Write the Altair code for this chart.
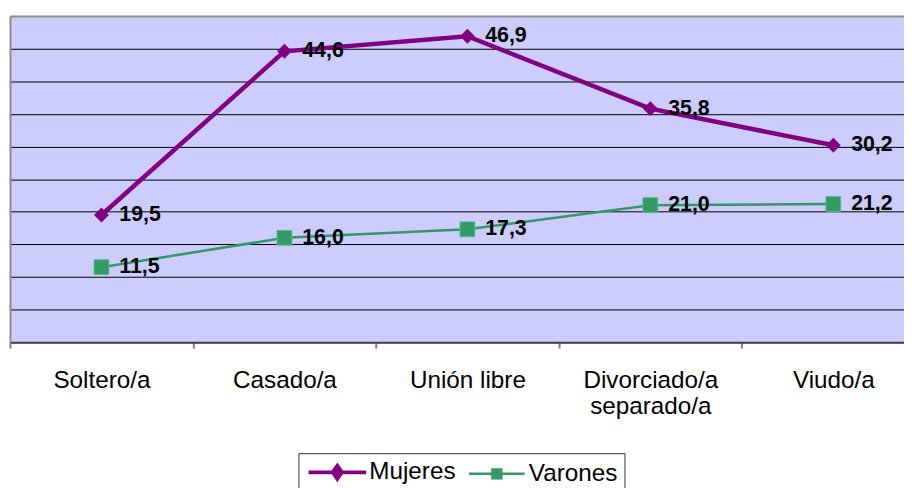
import altair as alt
import pandas as pd

categories = ["Soltero/a", "Casado/a", "Unión libre", "Divorciado/a\nseparado/a", "Viudo/a"]
series_names = ["Mujeres", "Varones"]
mujeres = [19.5, 44.6, 46.9, 35.8, 30.2]
varones = [11.5, 16.0, 17.3, 21.0, 21.2]
y_ticks = [0, 5, 10, 15, 20, 25, 30, 35, 40, 45, 50]

rows = []
for s, vals in zip(series_names, [mujeres, varones]):
    for c, v in zip(categories, vals):
        rows.append({"cat": c, "serie": s, "valor": v,
                     "etiqueta": f"{v:.1f}".replace(".", ",")})
df = pd.DataFrame(rows)

FONT = "Liberation Sans"
PURPLE = "#800080"
GREEN = "#339966"

x_enc = alt.X(
    "cat:N", sort=categories, title=None,
    scale=alt.Scale(type="band", range=[0, 923], paddingInner=0, paddingOuter=0),
    axis=alt.Axis(labelAngle=0, labelFont=FONT, labelFontSize=24.5, labelColor="black",
                  labelExpr="split(datum.label, '\\n')", labelLineHeight=26,
                  labelPadding=21, labelOverlap=False, labelLimit=0,
                  tickBand="extent", tickSize=6, tickColor="#808080", tickWidth=2,
                  domainColor="#404040", domainWidth=2, grid=False),
)
y_enc = alt.Y(
    "valor:Q", title=None,
    scale=alt.Scale(domain=[0, 50], nice=False, zero=True),
    axis=alt.Axis(values=y_ticks, labels=False, ticks=False, domain=True,
                  domainColor="#8C8C8C", domainWidth=2, grid=True, gridOpacity=1,
                  gridColor=alt.condition("datum.value >= 50", alt.value("#8C8C8C"), alt.value("black")),
                  gridWidth=alt.condition("datum.value >= 50", alt.value(2), alt.value(1))),
)

base = alt.Chart(df).encode(x=x_enc, y=y_enc)

line_m = base.transform_filter("datum.serie == 'Mujeres'").mark_line(color=PURPLE, strokeWidth=4.5)
line_v = base.transform_filter("datum.serie == 'Varones'").mark_line(color=GREEN, strokeWidth=2.5)
pts_m = base.transform_filter("datum.serie == 'Mujeres'").mark_point(
    shape="diamond", filled=True, fill=PURPLE, size=225, opacity=1, strokeWidth=0)
pts_v = base.transform_filter("datum.serie == 'Varones'").mark_point(
    shape="square", filled=True, fill=GREEN, stroke="#5FB88A", strokeWidth=1, size=225, opacity=1)
labels = base.mark_text(align="left", baseline="middle", dx=18, font=FONT, fontSize=21.5,
                        fontWeight="bold", color="black").encode(text="etiqueta:N")

# legend symbols: line segment plus marker (unit = 10 px with symbolSize 400)
path_m = "M-2.9,0H2.9M0,-0.65L0.45,0L0,0.65L-0.45,0Z"
path_v = "M-2.8,0H2.8M-0.45,-0.45H0.45V0.45H-0.45Z"

leg = alt.Legend(title=None, orient="none", legendX=291, legendY=441, direction="horizontal",
                 symbolSize=400, symbolOffset=20, labelFont=FONT, labelFontSize=24.5,
                 labelColor="black", labelOffset=20, columnPadding=8, padding=7,
                 strokeColor="#333333", fillColor="white")

legend_layer = base.transform_filter("false").mark_point(filled=True, opacity=1).encode(
    fill=alt.Fill("serie:N", scale=alt.Scale(domain=series_names, range=[PURPLE, GREEN]), legend=leg),
    stroke=alt.Stroke("serie:N", scale=alt.Scale(domain=series_names, range=[PURPLE, GREEN]), legend=leg),
    shape=alt.Shape("serie:N", scale=alt.Scale(domain=series_names, range=[path_m, path_v]), legend=leg),
    strokeWidth=alt.StrokeWidth("serie:N", scale=alt.Scale(type="point", domain=series_names,
                                                           range=[4, 2.5], padding=0), legend=leg),
)

chart = alt.layer(line_m, line_v, pts_m, pts_v, labels, legend_layer).properties(
    width=902, height=329,
    autosize=alt.AutoSizeParams(type="none"),
    padding={"left": 2, "top": 6, "right": 0, "bottom": 145},
    background="white",
).configure_view(fill="#CCCCFF", strokeWidth=0)

chart.save("out.html", embed_options={"renderer": "svg", "actions": False})
